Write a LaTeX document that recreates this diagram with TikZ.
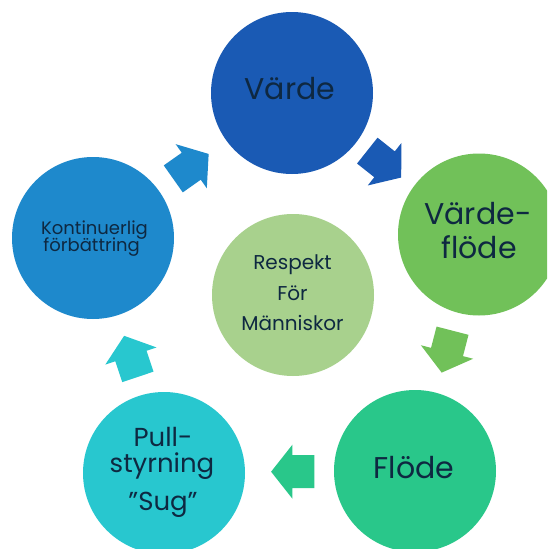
\documentclass[tikz,border=0pt]{standalone}
\usepackage{fontspec}
\setmainfont{Poppins}
\definecolor{cVarde}{HTML}{1A5AB4}
\definecolor{cVF}{HTML}{71C159}
\definecolor{cFlode}{HTML}{29C78A}
\definecolor{cPull}{HTML}{28C7CF}
\definecolor{cKont}{HTML}{1E89CC}
\definecolor{cResp}{HTML}{A8D18D}
\definecolor{txt}{HTML}{0E2841}
\tikzset{
  ring/.style={circle, minimum size=162pt, inner sep=0pt, draw=none},
  lbl/.style={anchor=base, inner sep=0pt, text=txt},
}
\newcommand{\blockarrow}[4]{% name, x, y, angle ; fill colour set by scope
  \begin{scope}[shift={(#2,#3)}, rotate=#4]
    \coordinate (#1) at (0,0);
    \fill (21.6,0) -- (0.3,27) -- (0.3,16.5) -- (-21.7,16.5) -- (-21.7,-16.5) -- (0.3,-16.5) -- (0.3,-27) -- cycle;
  \end{scope}}
\begin{document}
\begin{tikzpicture}[x=1pt,y=-1pt]
\useasboundingbox (0,0) rectangle (547,549);
\clip (0,0) rectangle (547,549);
\fill[white] (0,0) rectangle (547,549);
% circles
\node[ring, fill=cVarde] (varde) at (292,93) {};
\node[ring, fill=cVF] (vf) at (479,234.5) {};
\node[ring, fill=cFlode] (flode) at (415,471) {};
\node[ring, fill=cPull] (pull) at (164,473) {};
\node[ring, fill=cKont] (kont) at (93,238) {};
\node[ring, fill=cResp] (resp) at (293,295) {};
% arrows
\begin{scope}[fill=cKont]\blockarrow{aA}{191}{166.4}{35.2}\end{scope}
\begin{scope}[fill=cVarde]\blockarrow{aB}{384.3}{164.1}{-38.4}\end{scope}
\begin{scope}[fill=cVF]\blockarrow{aC}{447.1}{351.7}{-104.5}\end{scope}
\begin{scope}[fill=cFlode]\blockarrow{aD}{292.7}{471.7}{180}\end{scope}
\begin{scope}[fill=cPull]\blockarrow{aE}{131}{356.3}{108.5}\end{scope}
% texts
\node[lbl, font=\fontsize{30}{30}\selectfont] (t1) at (290,99.3) {Värde};
\node[lbl, font=\fontsize{30}{30}\selectfont] (t2a) at (478,224.3) {Värde-};
\node[lbl, font=\fontsize{30}{30}\selectfont] (t2b) at (479,258.3) {flöde};
\node[lbl, font=\fontsize{30}{30}\selectfont] (t3) at (414,478) {Flöde};
\node[lbl, font=\fontsize{26}{26}\selectfont] (t4a) at (163,446.7) {Pull-};
\node[lbl, font=\fontsize{26}{26}\selectfont] (t4b) at (162,472.7) {styrning};
\node[lbl, font=\fontsize{26}{26}\selectfont] (t4c) at (163,510.7) {”Sug”};
\node[lbl, font=\fontsize{18}{18}\selectfont] (t5a) at (94.5,234.3) {Kontinuerlig};
\node[lbl, font=\fontsize{18}{18}\selectfont] (t5b) at (91.7,251.7) {förbättring};
\node[lbl, font=\fontsize{20}{20}\selectfont] (t6a) at (292.5,269) {Respekt};
\node[lbl, font=\fontsize{20}{20}\selectfont] (t6b) at (292.5,300) {För};
\node[lbl, font=\fontsize{20}{20}\selectfont] (t6c) at (292.5,330) {Människor};
\end{tikzpicture}
\end{document}
